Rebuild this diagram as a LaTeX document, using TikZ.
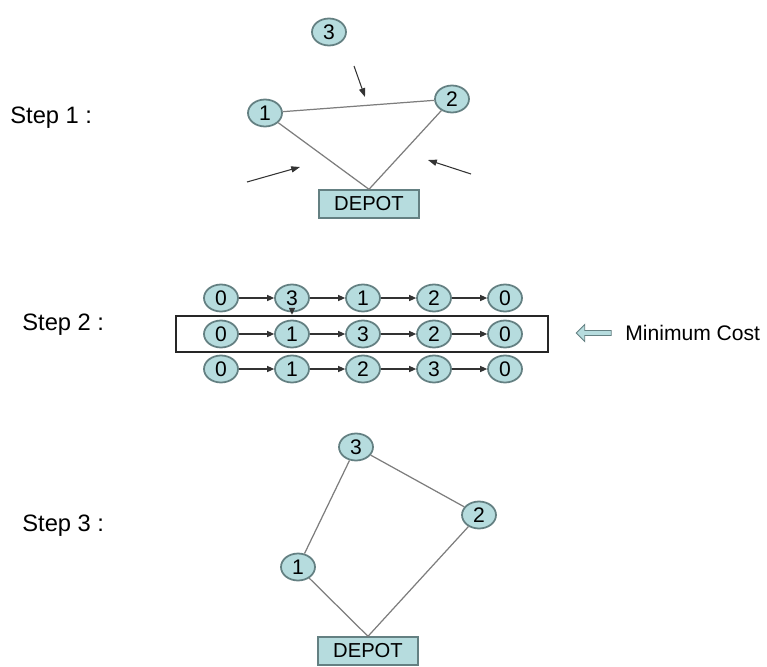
\documentclass[tikz,border=0pt]{standalone}
\usepackage{fontspec}
\setmainfont{Liberation Sans}
\usetikzlibrary{arrows.meta,shapes.geometric,shapes.arrows}

\definecolor{cityfill}{RGB}{182,220,222}
\definecolor{cityline}{RGB}{100,128,130}
\definecolor{edgegray}{RGB}{125,125,125}

\tikzset{
  city/.style={ellipse, draw=cityline, line width=1pt, fill=cityfill,
    minimum width=0.68cm, minimum height=0.54cm, inner sep=0pt,
    font=\fontsize{12}{12}\selectfont},
  depot/.style={rectangle, draw=cityline, line width=0.8pt, fill=cityfill,
    minimum width=2cm, minimum height=0.56cm, inner sep=0pt,
    font=\fontsize{11.5}{12}\selectfont},
  steplabel/.style={anchor=west, inner sep=0pt, font=\fontsize{13.5}{14}\selectfont},
  link/.style={draw=edgegray, line width=0.7pt},
  hop/.style={draw=black!80, line width=0.6pt, -{Triangle[length=4pt,width=3.5pt]}},
  pull/.style={draw=black!80, line width=0.6pt, -{Triangle[length=5pt,width=3.5pt]}}
}

\begin{document}
\begin{tikzpicture}[x=0.02cm, y=-0.02cm]
      \useasboundingbox (0,0) rectangle (767,666);

      % step labels
      \node[steplabel] (s1) at (10, 118) {Step 1 :};
      \node[steplabel] (s2) at (22, 325) {Step 2 :};
      \node[steplabel] (s3) at (22, 526) {Step 3 :};

      % step 1: current tour and the city to insert
      \node[city] (a3) at (329, 32) {3};
      \node[city] (a1) at (265, 113) {1};
      \node[city] (a2) at (452, 99) {2};
      \node[depot] (ad) at (369, 204) {DEPOT};
      \coordinate (p1) at (247, 182);
      \coordinate (q1) at (300, 167);
      \coordinate (p2) at (354, 66);
      \coordinate (q2) at (365, 97);
      \coordinate (p3) at (471, 174);
      \coordinate (q3) at (428, 160);

      \path[link] (a1) -- (a2) (a1) -- (ad.north) (a2) -- (ad.north);
      \foreach \source/\dest in {p1/q1, p2/q2, p3/q3}
        \path[pull] (\source) -- (\dest);

      % step 2: the three insertion positions
      \foreach \row/\yval/\seq in {1/298/{0,3,1,2,0}, 2/334/{0,1,3,2,0}, 3/369/{0,1,2,3,0}}
        \foreach \c [count=\col] in \seq
          \node[city] (r\row c\col) at (150+71*\col, \yval) {\c};

      \foreach \row in {1,2,3}
        \foreach \col/\next in {1/2, 2/3, 3/4, 4/5}
          \path[hop] (r\row c\col) -- (r\row c\next);

      \node[draw=black!85, line width=1.4pt, minimum width=7.44cm, minimum height=0.72cm,
        inner sep=0pt] (best) at (362, 334) {};
      \path[hop] (r1c2.south) -- (r1c2.south |- best.north);

      \node[single arrow, shape border rotate=180, draw=cityline, fill=cityfill,
        line width=0.5pt, minimum height=0.7cm, minimum width=0.34cm,
        single arrow head extend=0.07cm, inner sep=0.6pt] (pick) at (595, 333) {};
      \node[anchor=west, inner sep=0pt, font=\fontsize{12}{12}\selectfont] (cost) at (625, 333) {Minimum Cost};

      % step 3: tour after inserting city 3
      \node[city] (b3) at (356, 447) {3};
      \node[city] (b2) at (479, 515) {2};
      \node[city] (b1) at (298, 567) {1};
      \node[depot] (bd) at (368, 651) {DEPOT};

      \foreach \source/\dest in {b3/b1, b3/b2, b1/bd.north, b2/bd.north}
        \path[link] (\source) -- (\dest);
    \end{tikzpicture}
\end{document}
